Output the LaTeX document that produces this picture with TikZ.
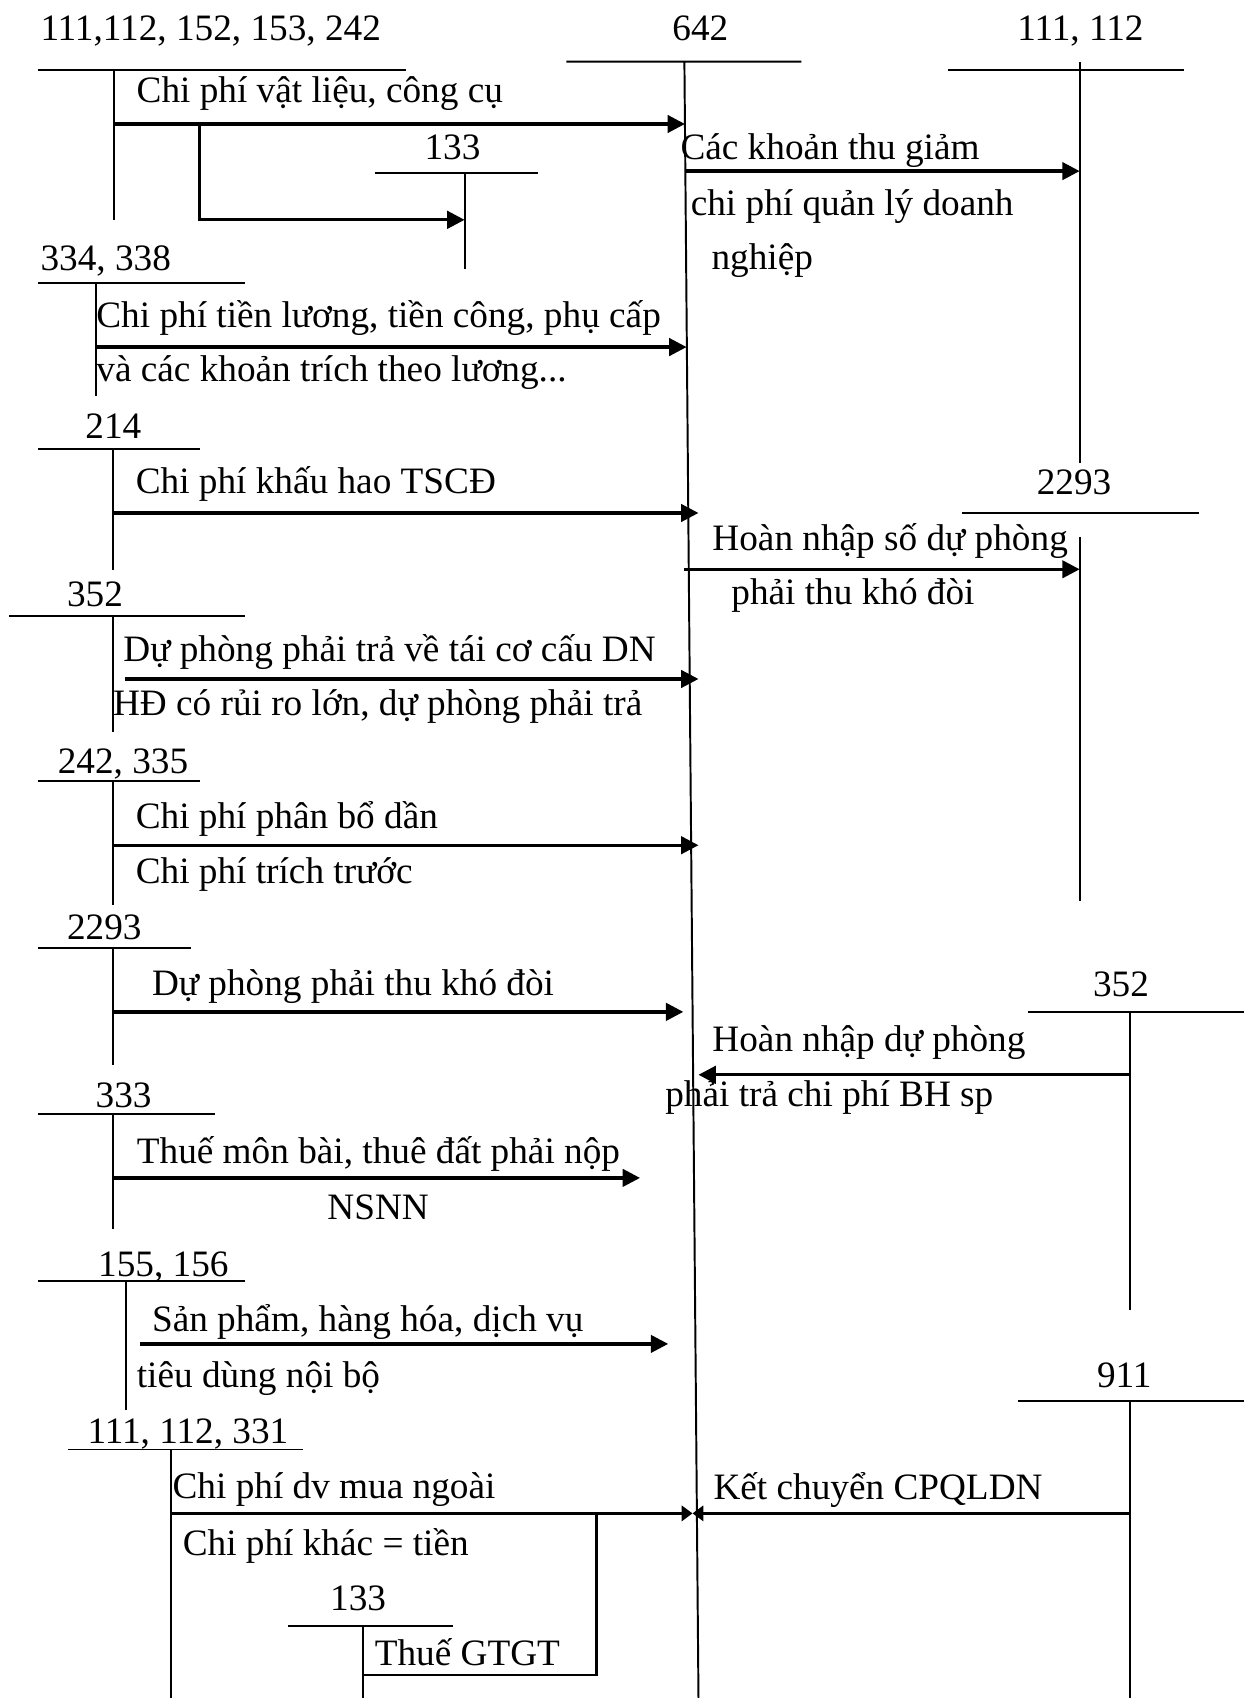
\documentclass[tikz,border=0pt]{standalone}
\usepackage{fontspec}
\setmainfont{Liberation Serif}
\usetikzlibrary{arrows.meta}
\begin{document}
\begin{tikzpicture}[x=0.5pt,y=-0.5pt,
  acc/.style={line width=0.9pt},
  flow/.style={line width=1.5pt,-{Triangle[length=8pt,width=8pt]}},
  shortflow/.style={line width=1.5pt,-{Triangle[length=5pt,width=7pt]}},
  plainflow/.style={line width=1.1pt},
  lbl/.style={anchor=base west,inner sep=0pt,font=\fontsize{17.2pt}{20pt}\selectfont}]
\useasboundingbox[fill=white] (0,0) rectangle (1149,1568);

% ---------- account 111,112,152,153,242 ----------
\node[lbl] (tA) at (37,37) {111,112, 152, 153, 242};
\coordinate (Al) at (35,65); \coordinate (Ar) at (375,65);
\coordinate (At) at (105,65); \coordinate (Ab) at (105,203);
\draw[acc] (Al)--(Ar) (At)--(Ab);

% ---------- account 642 ----------
\node[lbl] (tK) at (620.6,37) {642};
\coordinate (Kl) at (523,57); \coordinate (Kr) at (740,57);
\coordinate (Kt) at (632,57); \coordinate (Kb) at (645,1568);
\draw[acc] (Kl)--(Kr) (Kt)--(Kb);

% ---------- account 111,112 (right) ----------
\node[lbl] (tR) at (939,37) {111, 112};
\coordinate (Rl) at (875,65); \coordinate (Rr) at (1093,65);
\coordinate (Rt) at (997,57); \coordinate (Rb) at (997,428);
\draw[acc] (Rl)--(Rr) (Rt)--(Rb);

% flow 1
\coordinate (f1s) at (105,114.5); \coordinate (f1e) at (632.5,114.5);
\draw[flow] (f1s)--(f1e);
\node[lbl] (l1) at (125.8,95) {Chi phí vật liệu, công cụ};
% branch to 133
\coordinate (b1a) at (184,114.5); \coordinate (b1b) at (184,203); \coordinate (b1c) at (429,203);
\draw[flow] (b1a)--(b1b)--(b1c);

% ---------- account 133 (top) ----------
\node[lbl] (tG) at (391.7,147) {133};
\coordinate (Gl) at (346,160); \coordinate (Gr) at (497,160);
\coordinate (Gt) at (429,160); \coordinate (Gb) at (429,248);
\draw[acc] (Gl)--(Gr) (Gt)--(Gb);

% flow to 111,112
\coordinate (f2s) at (632.5,158); \coordinate (f2e) at (997,158);
\draw[flow] (f2s)--(f2e);
\node[lbl] (l2a) at (628,147) {Các khoản thu giảm};
\node[lbl] (l2b) at (637.5,198.6) {chi phí quản lý doanh};
\node[lbl] (l2c) at (656.7,248.7) {nghiệp};

% ---------- account 334,338 ----------
\node[lbl] (tB) at (37,250) {334, 338};
\coordinate (Bl) at (35,261.5); \coordinate (Br) at (226,261.5);
\coordinate (Bt) at (88.6,261.5); \coordinate (Bb) at (88.6,366);
\draw[acc] (Bl)--(Br) (Bt)--(Bb);
\coordinate (f3s) at (88.6,320.5); \coordinate (f3e) at (634,320.5);
\draw[flow] (f3s)--(f3e);
\node[lbl] (l3a) at (88.6,302) {Chi phí tiền lương, tiền công, phụ cấp};
\node[lbl] (l3b) at (88.6,352.5) {và các khoản trích theo lương...};

% ---------- account 214 ----------
\node[lbl] (tC) at (78.5,404.7) {214};
\coordinate (Cl) at (35,415); \coordinate (Cr) at (185,415);
\coordinate (Ct) at (104,415); \coordinate (Cb) at (104,526.5);
\draw[acc] (Cl)--(Cr) (Ct)--(Cb);
\coordinate (f4s) at (104,473.7); \coordinate (f4e) at (645,473.7);
\draw[flow] (f4s)--(f4e);
\node[lbl] (l4) at (125,456) {Chi phí khấu hao TSCĐ};

% ---------- account 2293 (right) ----------
\node[lbl] (tS) at (957,457) {2293};
\coordinate (Sl) at (888,473.5); \coordinate (Sr) at (1107,473.5);
\coordinate (St) at (997,495.7); \coordinate (Sb) at (997,832);
\draw[acc] (Sl)--(Sr) (St)--(Sb);
\coordinate (f5s) at (632,525.7); \coordinate (f5e) at (997,525.7);
\draw[flow] (f5s)--(f5e);
\node[lbl] (l5a) at (657.5,508) {Hoàn nhập số dự phòng};
\node[lbl] (l5b) at (675,558) {phải thu khó đòi};

% ---------- account 352 (left) ----------
\node[lbl] (tD) at (61.5,560.5) {352};
\coordinate (Dl) at (8.5,568.6); \coordinate (Dr) at (226,568.6);
\coordinate (Dt) at (104,568.6); \coordinate (Db) at (104,676);
\draw[acc] (Dl)--(Dr) (Dt)--(Db);
\coordinate (f6s) at (115.4,627); \coordinate (f6e) at (645,627);
\draw[flow] (f6s)--(f6e);
\node[lbl] (l6a) at (113.6,610.5) {Dự phòng phải trả về tái cơ cấu DN};
\node[lbl] (l6b) at (104,661) {HĐ có rủi ro lớn, dự phòng phải trả};

% ---------- account 242,335 ----------
\node[lbl] (tE) at (53,714) {242, 335};
\coordinate (El) at (35,721); \coordinate (Er) at (185,721);
\coordinate (Et) at (104,721); \coordinate (Eb) at (104,836);
\draw[acc] (El)--(Er) (Et)--(Eb);
\coordinate (f7s) at (104,780.5); \coordinate (f7e) at (645,780.5);
\draw[flow] (f7s)--(f7e);
\node[lbl] (l7a) at (125,765) {Chi phí phân bổ dần};
\node[lbl] (l7b) at (125,816) {Chi phí trích trước};

% ---------- account 2293 (left) ----------
\node[lbl] (tF) at (61.5,868) {2293};
\coordinate (Fl) at (35,875.7); \coordinate (Fr) at (176,875.7);
\coordinate (Ft) at (104,875.7); \coordinate (Fb) at (104,983.6);
\draw[acc] (Fl)--(Fr) (Ft)--(Fb);
\coordinate (f8s) at (104,934.4); \coordinate (f8e) at (631,934.4);
\draw[flow] (f8s)--(f8e);
\node[lbl] (l8) at (140,919) {Dự phòng phải thu khó đòi};

% ---------- account 352 (right) ----------
\node[lbl] (tP) at (1009,920) {352};
\coordinate (Pl) at (949.5,934.4); \coordinate (Pr) at (1149,934.4);
\coordinate (Pt) at (1043.5,934.4); \coordinate (Pb) at (1043.5,1210);
\draw[acc] (Pl)--(Pr) (Pt)--(Pb);
\coordinate (f9s) at (1043.5,992.5); \coordinate (f9e) at (645,992.5);
\draw[flow] (f9s)--(f9e);
\node[lbl] (l9a) at (657.5,971) {Hoàn nhập dự phòng};
\node[lbl] (l9b) at (614,1022) {phải trả chi phí BH sp};

% ---------- account 333 ----------
\node[lbl] (tH) at (88,1023) {333};
\coordinate (Hl) at (35,1029); \coordinate (Hr) at (198.5,1029);
\coordinate (Ht) at (104,1029); \coordinate (Hb) at (104,1135);
\draw[acc] (Hl)--(Hr) (Ht)--(Hb);
\coordinate (f10s) at (104,1087.7); \coordinate (f10e) at (591,1087.7);
\draw[flow] (f10s)--(f10e);
\node[lbl] (l10a) at (126,1074.5) {Thuế môn bài, thuê đất phải nộp};
\node[lbl] (l10b) at (302,1126) {NSNN};

% ---------- account 155,156 ----------
\node[lbl] (tI) at (90.3,1179) {155, 156};
\coordinate (Il) at (35,1182.8); \coordinate (Ir) at (226,1182.8);
\coordinate (It) at (116.6,1182.8); \coordinate (Ib) at (116.6,1302);
\draw[acc] (Il)--(Ir) (It)--(Ib);
\coordinate (f11s) at (129.3,1241); \coordinate (f11e) at (617,1241);
\draw[flow] (f11s)--(f11e);
\node[lbl] (l11a) at (140,1230) {Sản phẩm, hàng hóa, dịch vụ};
\node[lbl] (l11b) at (126,1281) {tiêu dùng nội bộ};

% ---------- account 911 ----------
\node[lbl] (tN) at (1012.6,1281) {911};
\coordinate (Nl) at (940,1293.7); \coordinate (Nr) at (1149,1293.7);
\coordinate (Nt) at (1043.5,1293.7); \coordinate (Nb) at (1043.5,1568);
\draw[acc] (Nl)--(Nr) (Nt)--(Nb);

% ---------- account 111,112,331 ----------
\node[lbl] (tJ) at (80.5,1333) {111, 112, 331};
\coordinate (Jl) at (62.8,1338.5); \coordinate (Jr) at (280,1338.5);
\coordinate (Jt) at (157.7,1338.5); \coordinate (Jb) at (157.7,1568);
\draw[acc] (Jl)--(Jr) (Jt)--(Jb);
\coordinate (f12s) at (157.7,1397.5); \coordinate (f12e) at (639.5,1397.5);
\draw[shortflow] (f12s)--(f12e);
\node[lbl] (l12a) at (159,1384) {Chi phí dv mua ngoài};
\node[lbl] (l12b) at (168.4,1436) {Chi phí khác = tiền};
\coordinate (f13s) at (1043.5,1397.5); \coordinate (f13e) at (639.5,1397.5);
\draw[shortflow] (f13s)--(f13e);
\node[lbl] (l13) at (658.5,1384.5) {Kết chuyển CPQLDN};
% branch to 133 (bottom)
\coordinate (b2a) at (551,1397.5); \coordinate (b2b) at (551,1547); \coordinate (b2c) at (335,1547);
\draw[plainflow] (b2a)--(b2b)--(b2c);

% ---------- account 133 (bottom) ----------
\node[lbl] (tM) at (304.5,1487.6) {133};
\coordinate (Ml) at (266,1501.5); \coordinate (Mr) at (418,1501.5);
\coordinate (Mt) at (335,1501.5); \coordinate (Mb) at (335,1568);
\draw[acc] (Ml)--(Mr) (Mt)--(Mb);
\node[lbl] (l14) at (345.7,1538) {Thuế GTGT};
\end{tikzpicture}
\end{document}
